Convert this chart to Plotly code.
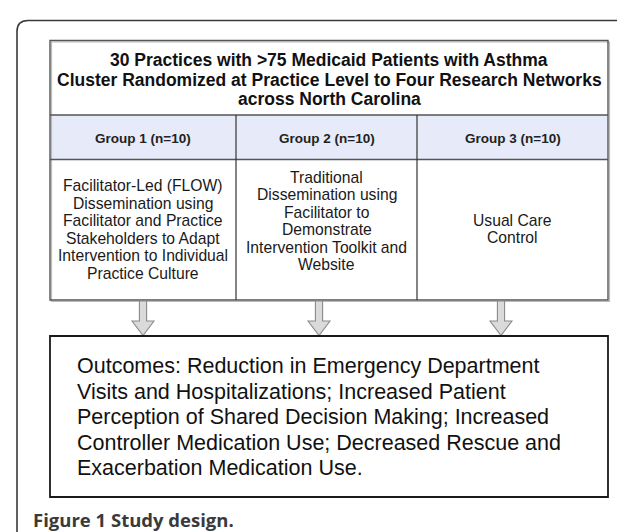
import plotly.graph_objects as go

# ---- content (text data) ----
title_lines = [
    "30 Practices with >75 Medicaid Patients with Asthma",
    "Cluster Randomized at Practice Level to Four Research Networks",
    "across North Carolina",
]
group_labels = ["Group 1 (n=10)", "Group 2 (n=10)", "Group 3 (n=10)"]
group_descriptions = [
    ["Facilitator-Led (FLOW)", "Dissemination using", "Facilitator and Practice",
     "Stakeholders to Adapt", "Intervention to Individual", "Practice Culture"],
    ["Traditional", "Dissemination using", "Facilitator to", "Demonstrate",
     "Intervention Toolkit and", "Website"],
    ["Usual Care", "Control"],
]
outcome_lines = [
    "Outcomes: Reduction in Emergency Department",
    "Visits and Hospitalizations; Increased Patient",
    "Perception of Shared Decision Making; Increased",
    "Controller Medication Use; Decreased Rescue and",
    "Exacerbation Medication Use.",
]
caption = "<b>Figure 1</b> <b>Study design.</b>"

# ---- layout geometry (pixels) ----
W, H = 625, 532
TL, TR = 42, 600
T_TOP, T_TITLE, T_GROUP, T_BOT = 32.5, 107, 151.5, 292
COL_X = [TL, 228, 409, TR]
ARROW_X = [135, 311, 493]
BOX_TOP, BOX_BOT = 328, 489

FONT = "Arial"
shapes = []
ann = []

# outer frame with rounded top-left corner
r = 11
fx, fy = 9, 12.5
shapes.append(dict(type="path", xref="x", yref="y",
                   path=f"M {W+20} {fy} L {fx+r} {fy} Q {fx} {fy} {fx} {fy+r} L {fx} {H+20}",
                   line=dict(color="#3a3a3a", width=1.6)))

# group row fill
shapes.append(dict(type="rect", x0=TL, x1=TR, y0=T_TITLE, y1=T_GROUP,
                   fillcolor="#e6eaf9", line=dict(width=0), layer="below"))
# table shadow
shapes.append(dict(type="rect", x0=TL + 1.5, x1=TR + 1.5, y0=T_TOP + 1.5, y1=T_BOT + 1.5,
                   line=dict(color="#bbbbbb", width=1.2)))
# table outline
shapes.append(dict(type="rect", x0=TL, x1=TR, y0=T_TOP, y1=T_BOT,
                   line=dict(color="#555555", width=1.4)))
for yy in (T_TITLE, T_GROUP):
    shapes.append(dict(type="line", x0=TL, x1=TR, y0=yy, y1=yy,
                       line=dict(color="#555555", width=1.4)))
for xx in COL_X[1:3]:
    shapes.append(dict(type="line", x0=xx, x1=xx, y0=T_TITLE, y1=T_BOT,
                       line=dict(color="#333333", width=1.2)))

# title
title_y = [52, 71.5, 91]
for t, yy in zip(title_lines, title_y):
    ann.append(dict(x=(TL + TR) / 2, y=yy, text=f"<b>{t}</b>", showarrow=False,
                    font=dict(family=FONT, size=17.5, color="#111111"),
                    xanchor="center", yanchor="middle"))

# groups
for i, lab in enumerate(group_labels):
    cx = (COL_X[i] + COL_X[i + 1]) / 2
    ann.append(dict(x=cx, y=130, text=f"<b>{lab}</b>", showarrow=False,
                    font=dict(family=FONT, size=13.5, color="#222222"),
                    xanchor="center", yanchor="middle"))

# descriptions
LS = 17.5
centers = [221.5, 213, 221]
for i, lines in enumerate(group_descriptions):
    cx = (COL_X[i] + COL_X[i + 1]) / 2
    n = len(lines)
    for k, t in enumerate(lines):
        yy = centers[i] + (k - (n - 1) / 2) * LS
        ann.append(dict(x=cx, y=yy, text=t, showarrow=False,
                        font=dict(family=FONT, size=15.7, color="#1a1a1a"),
                        xanchor="center", yanchor="middle"))

# arrows
sw, hw = 3.6, 11
for ax in ARROW_X:
    y0, yh, yt = T_BOT + 1, 313, BOX_TOP - 0.5
    p = (f"M {ax-sw} {y0} L {ax+sw} {y0} L {ax+sw} {yh} L {ax+hw} {yh} "
         f"L {ax} {yt} L {ax-hw} {yh} L {ax-sw} {yh} Z")
    shapes.append(dict(type="path", path=p, fillcolor="#dadada",
                       line=dict(color="#8a8a8a", width=1.1)))

# outcome box
shapes.append(dict(type="rect", x0=TL, x1=TR, y0=BOX_TOP, y1=BOX_BOT,
                   line=dict(color="#1a1a1a", width=1.8)))
for k, t in enumerate(outcome_lines):
    ann.append(dict(x=67, y=358 + k * 25.5, text=t, showarrow=False,
                    font=dict(family=FONT, size=21.5, color="#111111"),
                    xanchor="left", yanchor="middle"))

# caption
ann.append(dict(x=23, y=511, text=caption, showarrow=False,
                font=dict(family="Open Sans", size=18.5, color="#3a3a3a"),
                xanchor="left", yanchor="middle"))

fig = go.Figure()
fig.update_layout(
    width=W, height=H, margin=dict(l=0, r=0, t=0, b=0),
    paper_bgcolor="white", plot_bgcolor="white",
    xaxis=dict(range=[0, W], visible=False, fixedrange=True),
    yaxis=dict(range=[H, 0], visible=False, fixedrange=True),
    shapes=shapes, annotations=ann, showlegend=False,
)
fig.write_html("out.html")
